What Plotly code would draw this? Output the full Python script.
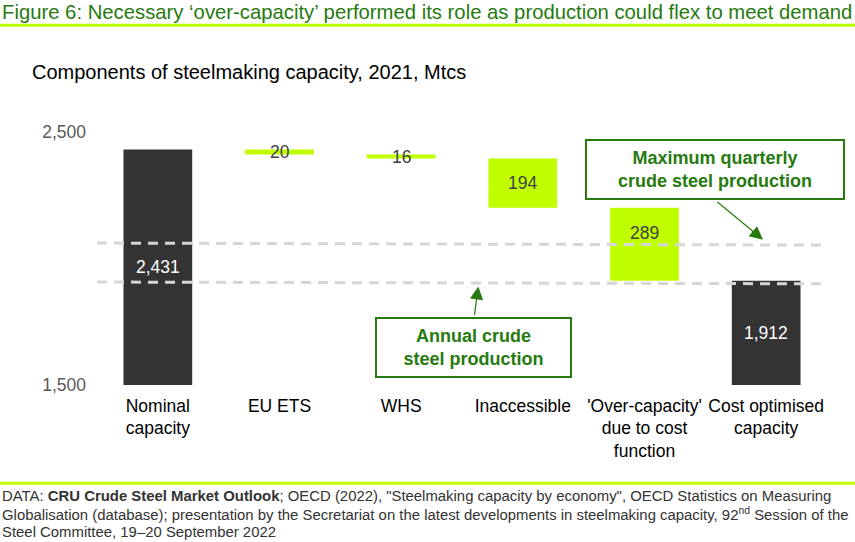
import plotly.graph_objects as go

categories = ["Nominal<br>capacity", "EU ETS", "WHS", "Inaccessible",
              "'Over-capacity'<br>due to cost<br>function", "Cost optimised<br>capacity"]
values = [2431, 20, 16, 194, 289, 1912]
labels = ["2,431", "20", "16", "194", "289", "1,912"]
kinds = ["total", "step", "step", "step", "step", "total"]
label_frac = [0.5, 0.5, 0.5, 0.5, 0.66, 0.5]

annual_line = [1907, 1900]      # left, right
quarterly_line = [2061, 2053]   # left, right
y_ticks = [1500, 2500]
y_tick_text = ["1,500", "2,500"]
y_range = [1500, 2500]

source_lines = [
    "DATA: <b>CRU Crude Steel Market Outlook</b>; OECD (2022), \"Steelmaking capacity by economy\", OECD Statistics on Measuring",
    "Globalisation (database); presentation by the Secretariat on the latest developments in steelmaking capacity, 92<sup>nd</sup> Session of the",
    "Steel Committee, 19\u201320 September 2022",
]

DARK = "#333333"
LIME = "#BFFF00"
GREEN = "#267A0F"
FONT = "Liberation Sans, Arial, sans-serif"

bases, colors = [], []
level = None
for k, v in zip(kinds, values):
    if k == "total":
        bases.append(0)
        colors.append(DARK)
        level = v
    else:
        level = level - v
        bases.append(level)
        colors.append(LIME)

fig = go.Figure()
fig.add_trace(go.Bar(x=categories, y=values, base=bases, marker_color=colors,
                     marker_line_width=0, width=0.565, hoverinfo="skip"))

annotations = []
for c, v, b, lab, k, f in zip(categories, values, bases, labels, kinds, label_frac):
    if k == "total":
        ymid = (max(b, y_range[0]) + b + v) / 2
        col = "white"
    else:
        ymid = b + v * f
        col = "#404040"
    annotations.append(dict(x=c, y=ymid, text=lab, showarrow=False,
                            xanchor="center", yanchor="middle",
                            font=dict(family=FONT, size=17.5, color=col)))

def px(x):
    return (x - 97) / 730

def py(y):
    return (385.3 - y) / 253

# dashed reference lines
shapes = []
for ln in (annual_line, quarterly_line):
    shapes.append(dict(type="line", xref="paper", yref="y", x0=0, x1=px(823),
                       y0=ln[0], y1=ln[1], layer="above",
                       line=dict(color="#D6D6D6", width=3, dash="10px,7px")))
# green rules in header / footer
for yy in (25.5, 483.5):
    shapes.append(dict(type="line", xref="paper", yref="paper", x0=px(0), x1=px(855),
                       y0=py(yy), y1=py(yy), line=dict(color=LIME, width=3)))

# callout boxes
annotations.append(dict(xref="paper", yref="paper", x=px(715), y=py(169.4),
                        xanchor="center", yanchor="middle",
                        text="<b>Maximum quarterly<br>crude steel production</b>",
                        showarrow=False, width=256, height=57, bgcolor="white",
                        bordercolor=GREEN, borderwidth=2, borderpad=0,
                        font=dict(family=FONT, size=18, color=GREEN)))
annotations.append(dict(xref="paper", yref="paper", x=px(473.7), y=py(348),
                        xanchor="center", yanchor="middle",
                        text="<b>Annual crude<br>steel production</b>",
                        showarrow=False, width=193, height=57, bgcolor="white",
                        bordercolor=GREEN, borderwidth=2, borderpad=0,
                        font=dict(family=FONT, size=18, color=GREEN)))
# arrows
annotations.append(dict(xref="paper", yref="paper", x=px(763), y=py(240), text="",
                        showarrow=True, ax=-47, ay=-39, arrowhead=2, arrowsize=2.2,
                        arrowwidth=1.2, arrowcolor=GREEN))
annotations.append(dict(xref="paper", yref="paper", x=px(478.3), y=py(286.7), text="",
                        showarrow=True, ax=-4, ay=30, arrowhead=2, arrowsize=2.2,
                        arrowwidth=1.2, arrowcolor=GREEN))

# title, subtitle, source
annotations.append(dict(xref="paper", yref="paper", x=px(0), y=py(12), xanchor="left",
                        yanchor="middle", showarrow=False,
                        text="Figure 6: Necessary \u2018over-capacity\u2019 performed its role as production could flex to meet demand",
                        font=dict(family=FONT, size=20.3, color=GREEN)))
annotations.append(dict(xref="paper", yref="paper", x=px(30), y=py(72), xanchor="left",
                        yanchor="middle", showarrow=False,
                        text="Components of steelmaking capacity, 2021, Mtcs",
                        font=dict(family=FONT, size=20, color="black")))
for i, line in enumerate(source_lines):
    annotations.append(dict(xref="paper", yref="paper", x=px(0), y=py(496 + 18 * i),
                            xanchor="left", yanchor="middle", showarrow=False,
                            align="left", text=line,
                            font=dict(family=FONT, size=14.9, color="#333333")))

fig.update_layout(
    width=855, height=542,
    margin=dict(l=97, r=28, t=132, b=157),
    paper_bgcolor="white", plot_bgcolor="white",
    showlegend=False,
    shapes=shapes, annotations=annotations,
    xaxis=dict(type="category", showgrid=False, showline=False, ticks="",
               ticklabelstandoff=8,
               tickfont=dict(family=FONT, size=17.5, color="black")),
    yaxis=dict(range=y_range, tickvals=y_ticks, ticktext=y_tick_text,
               showgrid=True, gridcolor="#A6A6A6", gridwidth=1, zeroline=False,
               showline=False, ticks="", ticklabelstandoff=10,
               tickfont=dict(family=FONT, size=17.5, color="#595959")),
)

fig.write_html("out.html", config={"displayModeBar": False},
               post_script="document.body.style.margin='0px';")
